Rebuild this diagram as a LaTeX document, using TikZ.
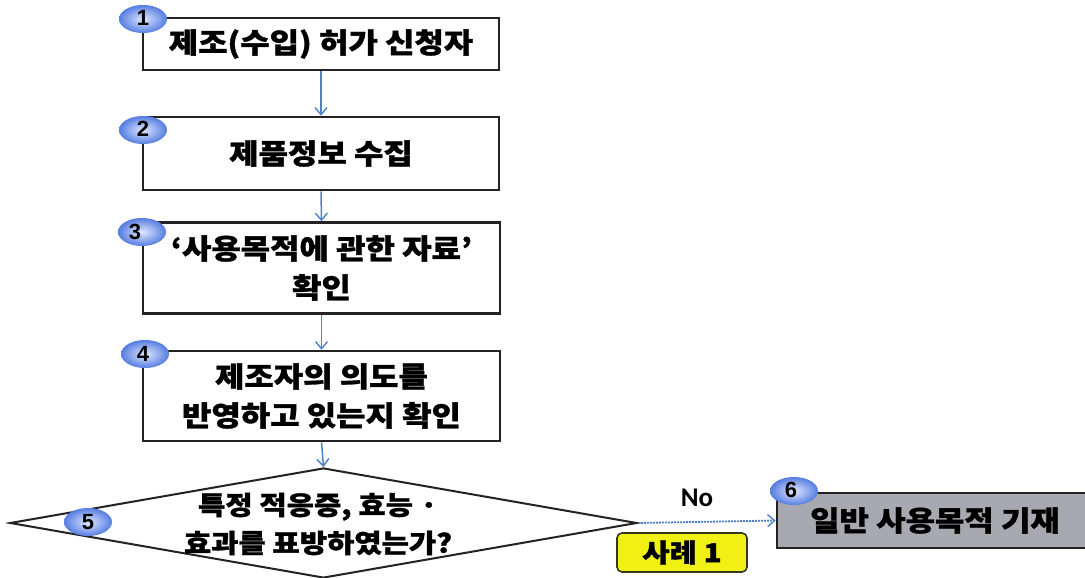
\documentclass[tikz,border=0pt]{standalone}
\usepackage{fontspec}
\usetikzlibrary{shapes.geometric,arrows.meta}
\newfontfamily\krfont{Noto Sans CJK KR}[FakeStretch=1.14, BoldFeatures={FakeBold=1.2}]
\newfontfamily\numfont{Liberation Sans}
\newfontfamily\nofont{Carlito}
\definecolor{arrowblue}{RGB}{79,129,200}
\definecolor{boxline}{RGB}{35,35,35}
\definecolor{greyfill}{RGB}{168,168,176}
\definecolor{caseyellow}{RGB}{240,240,20}
\definecolor{badgein}{RGB}{225,232,255}
\definecolor{badgeout}{RGB}{85,125,225}
\tikzset{
  stepbox/.style={draw=boxline, line width=2.6pt, fill=white, inner sep=0pt, align=center,
    font=\krfont\bfseries\fontsize{28}{39}\selectfont},
  badge/.style={ellipse, minimum width=48pt, minimum height=28pt, inner sep=0pt,
    shading=radial, inner color=badgein, outer color=badgeout,
    font=\numfont\bfseries\fontsize{22}{22}\selectfont},
  flow/.style={draw=arrowblue, line width=1.5pt, -{Straight Barb[length=7pt,width=12pt,line width=1.4pt]}},
  noflow/.style={draw=arrowblue, line width=1.8pt, dash pattern=on 2pt off 1pt, -{Straight Barb[length=7pt,width=12pt,line width=1.4pt]}},
}
\begin{document}
\begin{tikzpicture}[x=1pt,y=-1pt]
\useasboundingbox (0,0) rectangle (1085,578);
\fill[white] (0,0) rectangle (1085,578);

\node[stepbox, minimum width=356pt, minimum height=52pt] (b1) at (321,44) {제조(수입) 허가 신청자};
\node[stepbox, minimum width=356pt, minimum height=73pt] (b2) at (321,153.5) {제품정보 수집};
\node[stepbox, minimum width=357pt, minimum height=91pt] (b3) at (321.5,268) {‘사용목적에 관한 자료’\\확인};
\node[stepbox, minimum width=357pt, minimum height=90pt] (b4) at (321.5,396) {제조자의 의도를\\반영하고 있는지 확인};

\node[diamond, draw=boxline, line width=2pt, fill=white, minimum width=627pt, minimum height=110pt, inner sep=0pt] (d5) at (323.5,523) {};
\node[align=center, inner sep=0pt, font=\krfont\bfseries\fontsize{26}{38}\selectfont] (d5t) at (318,524) {특정 적응증, 효능 ·\\효과를 표방하였는가?};

\node[stepbox, fill=greyfill, minimum width=318pt, minimum height=55pt, font=\krfont\bfseries\fontsize{28}{30}\selectfont] (b6) at (936,520.5) {\hspace*{-2pt}일반 사용목적 기재};

\draw[flow] (b1.south) -- (b2.north);
\draw[flow] (b2.south) -- (b3.north);
\draw[flow] (b3.south) -- (b4.north);
\draw[flow] (b4.south) -- (d5.north);
\draw[noflow] (d5.east) -- (b6.west);

\node[font=\nofont\bfseries\fontsize{27}{27}\selectfont, inner sep=0pt] (no) at (697,498) {No};
\node[draw=boxline!80!olive, line width=1.6pt, rounded corners=5pt, fill=caseyellow,
  minimum width=130pt, minimum height=39pt, inner sep=0pt,
  font=\krfont\bfseries\fontsize{26}{26}\selectfont] (case) at (682,552.5) {사례 1};

\node[badge] (n1) at (143,19) {\raisebox{3pt}{1}};
\node[badge] (n2) at (143,130) {\raisebox{2pt}{2}};
\node[badge] (n3) at (142,232) {\hspace*{-14pt}3};
\node[badge] (n4) at (145,354) {\hspace*{-4pt}4};
\node[badge] (n5) at (88,522) {5};
\node[badge] (n6) at (794,491) {\hspace*{-6pt}\raisebox{3pt}{6}};
\end{tikzpicture}
\end{document}
